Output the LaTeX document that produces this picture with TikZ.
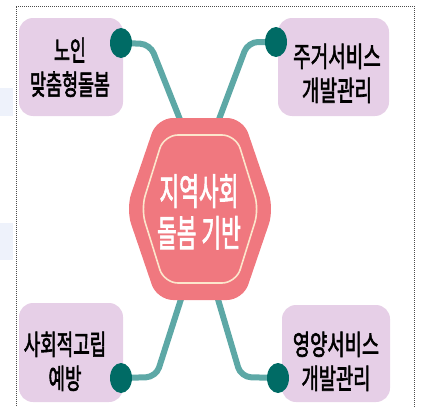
\documentclass[tikz,border=0pt]{standalone}
\usepackage{fontspec}
\usepackage{graphicx}
\usepackage{tikz}
\usetikzlibrary{shapes.geometric}
\newfontfamily\krfont{Noto Sans CJK KR}[AutoFakeBold=2.5]
\definecolor{boxlila}{HTML}{E6CFE7}
\definecolor{hexpink}{HTML}{F0787F}
\definecolor{hexline}{HTML}{FCE6CC}
\definecolor{linkteal}{HTML}{5DA8A6}
\definecolor{dotteal}{HTML}{006B65}
\definecolor{sidebl}{HTML}{EEF2FB}
\newcommand{\narrowtxt}[2]{\scalebox{#1}[1]{\begin{tabular}{@{}c@{}}#2\end{tabular}}}

\begin{document}
\begin{tikzpicture}[x=1pt, y=-1pt,
  topic/.style={fill=boxlila, rounded corners=14pt, inner sep=0pt},
  link/.style={draw=linkteal, line width=6pt, rounded corners=10pt},
  dot/.style={fill=dotteal, ellipse, minimum width=22pt, minimum height=30pt, inner sep=0pt},
  boxtext/.style={font=\krfont\bfseries\fontsize{28}{34}\selectfont, text=black}]
\useasboundingbox (0,0) rectangle (421,407);

% page bits
\fill[sidebl] (0,88) rectangle (13,116);
\fill[sidebl] (0,223) rectangle (13,260);
\draw[densely dotted, line width=1pt, black!70] (16,410) -- (16,6) -- (414,6) -- (414,410);

% boxes
\fill[topic] (19,18) rectangle (123,116);
\fill[topic] (278,18) rectangle (389,116);
\fill[topic] (19,303) rectangle (123,402);
\fill[topic] (282,305) rectangle (390,402);
\node[boxtext] (care) at (70,71) {\narrowtxt{.62}{노인\\맞춤형돌봄}};
\node[boxtext] (house) at (337,77) {\narrowtxt{.68}{주거서비스\\개발관리}};
\node[boxtext] (lonely) at (65,365) {\narrowtxt{.64}{사회적고립\\예방}};
\node[boxtext] (food) at (336,365) {\narrowtxt{.67}{영양서비스\\개발관리}};

% hub ends and dot centres
\coordinate (hubA) at (181,122);
\coordinate (hubB) at (218,122);
\coordinate (hubC) at (182,296);
\coordinate (hubD) at (217,296);
\coordinate (endA) at (121,43);
\coordinate (endB) at (276,42);
\coordinate (endC) at (121,378);
\coordinate (endD) at (278,378);

\draw[link] (endA) -- ++(29,1) -- (hubA);
\draw[link] (endB) -- ++(-28,0) -- (hubB);
\draw[link] (endC) -- ++(35,-1) -- (hubC);
\draw[link] (endD) -- ++(-37,-1) -- (hubD);
\node[dot] (dotA) at (endA) {};
\node[dot] (dotB) at (endB) {};
\node[dot] (dotC) at (endC) {};
\node[dot] (dotD) at (endD) {};

\fill[hexpink, rounded corners=16pt] (157,118) -- (243,118) -- (274,209) -- (243,300) -- (157,300) -- (126,209) -- cycle;
\draw[hexline, line width=1.6pt, rounded corners=14pt] (164,135) -- (236,135) -- (259,209) -- (236,283) -- (164,283) -- (141,209) -- cycle;
\node[font=\krfont\bfseries\fontsize{37}{37}\selectfont, text=white] (hub) at (199,216) {\narrowtxt{.58}{지역사회\\돌봄 기반}};

\end{tikzpicture}
\end{document}
